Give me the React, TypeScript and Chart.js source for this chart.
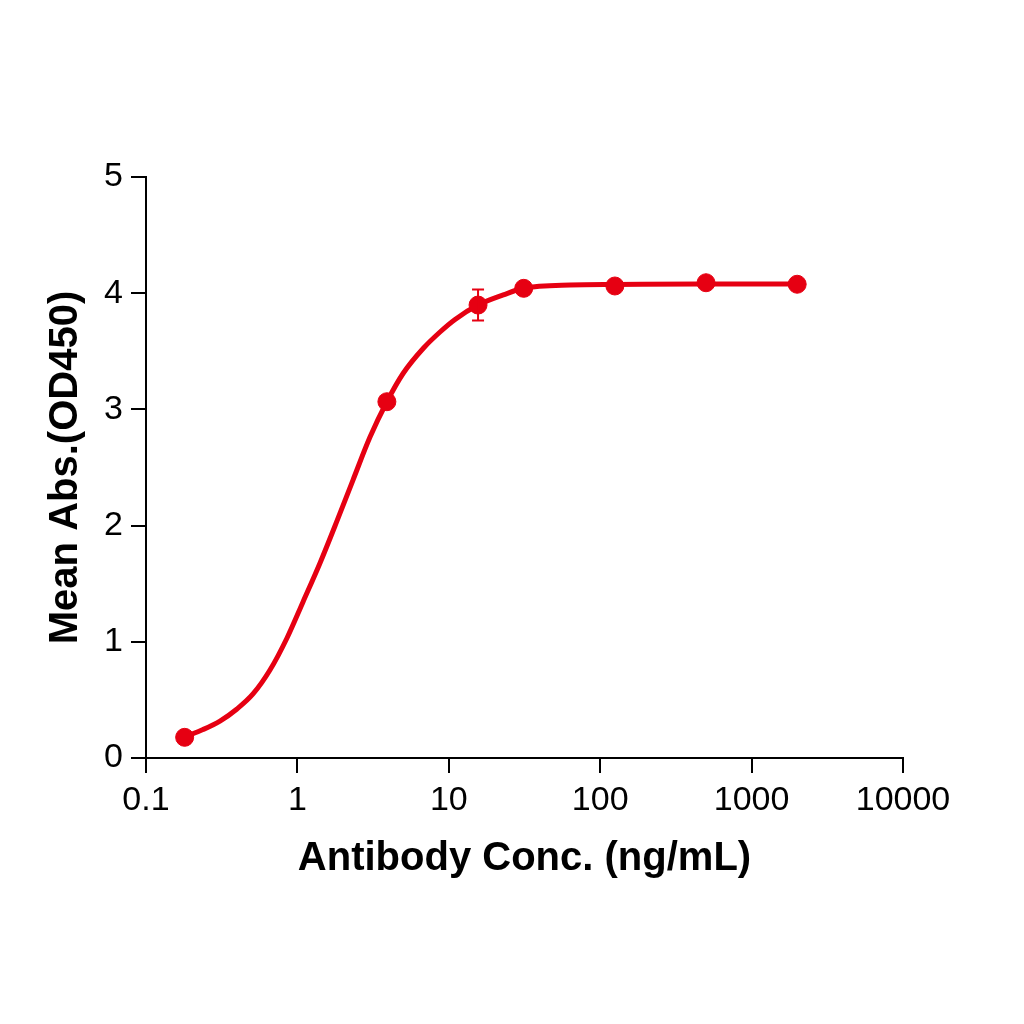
import React, { useEffect, useRef } from "react";
import { Chart, registerables } from "chart.js";

Chart.register(...registerables);

// Measured points (ng/mL vs mean OD450)
const concentrations = [0.18, 3.9, 15.6, 31.25, 125, 500, 2000];
const meanAbs = [0.178, 3.066, 3.898, 4.042, 4.062, 4.09, 4.077];
const errorAbs = [0, 0, 0.133, 0, 0, 0, 0];

// Fitted curve
const curveX = [0.18, 0.238, 0.308, 0.399, 0.509, 0.659, 0.854, 1.089, 1.411, 1.826, 2.329, 3.017, 3.9, 5.0, 6.79, 8.75, 11.0, 15.6, 22.9, 31.0, 63.2, 125, 456, 2000];
const curveY = [0.181, 0.245, 0.318, 0.422, 0.551, 0.757, 1.033, 1.343, 1.678, 2.04, 2.392, 2.762, 3.066, 3.311, 3.526, 3.666, 3.774, 3.898, 3.985, 4.042, 4.071, 4.075, 4.079, 4.079];

const xTickValues = [0.1, 1, 10, 100, 1000, 10000];
const xTickLabels = ["0.1", "1", "10", "100", "1000", "10000"];
const yTickValues = [0, 1, 2, 3, 4, 5];

const xTitle = "Antibody Conc. (ng/mL)";
const yTitle = "Mean Abs.(OD450)";

const RED = "rgb(230,0,18)";
const FONT = "'Liberation Sans', Arial, sans-serif";

const errorBarPlugin = {
  id: "errorBars",
  afterDatasetsDraw(chart: any) {
    const { ctx, scales } = chart;
    const xs = scales.x;
    const ys = scales.y;
    ctx.save();
    ctx.strokeStyle = RED;
    ctx.lineWidth = 2;
    concentrations.forEach((c, i) => {
      const e = errorAbs[i];
      if (!e) return;
      const px = xs.getPixelForValue(c);
      const top = ys.getPixelForValue(meanAbs[i] + e);
      const bot = ys.getPixelForValue(meanAbs[i] - e);
      ctx.beginPath();
      ctx.moveTo(px, top);
      ctx.lineTo(px, bot);
      ctx.moveTo(px - 6, top);
      ctx.lineTo(px + 6, top);
      ctx.moveTo(px - 6, bot);
      ctx.lineTo(px + 6, bot);
      ctx.stroke();
    });
    ctx.restore();
  },
};

export default function App() {
  const ref = useRef<HTMLCanvasElement | null>(null);

  useEffect(() => {
    document.body.style.margin = "0";
    if (!ref.current) return;
    const chart = new Chart(ref.current, {
      type: "line",
      data: {
        datasets: [
          {
            type: "scatter",
            data: concentrations.map((c, i) => ({ x: c, y: meanAbs[i] })),
            backgroundColor: RED,
            borderColor: RED,
            pointRadius: 9,
            pointHoverRadius: 9,
            showLine: false,
            order: 0,
          },
          {
            type: "line",
            data: curveX.map((c, i) => ({ x: c, y: curveY[i] })),
            borderColor: RED,
            borderWidth: 5,
            pointRadius: 0,
            cubicInterpolationMode: "monotone",
            fill: false,
            order: 1,
          },
        ],
      },
      options: {
        animation: false,
        responsive: true,
        maintainAspectRatio: false,
        layout: { padding: { top: 177, right: 121, left: 0, bottom: 0 } },
        plugins: { legend: { display: false }, tooltip: { enabled: false } },
        events: [],
        scales: {
          x: {
            type: "logarithmic",
            min: 0.1,
            max: 10000,
            afterBuildTicks: (scale: any) => {
              scale.ticks = xTickValues.map((v) => ({ value: v }));
            },
            afterFit: (scale: any) => {
              scale.height = 266;
            },
            ticks: {
              autoSkip: false,
              maxRotation: 0,
              padding: 7,
              color: "#000",
              font: { family: FONT, size: 34 },
              callback: (v: any) => {
                const idx = xTickValues.indexOf(Number(v));
                return idx >= 0 ? xTickLabels[idx] : "";
              },
            },
            grid: {
              display: true,
              drawOnChartArea: false,
              drawTicks: true,
              tickLength: 15,
              color: "#000",
              lineWidth: 2,
            },
            border: { display: true, color: "#000", width: 2 },
            title: {
              display: true,
              text: xTitle,
              color: "#000",
              font: { family: FONT, size: 40, weight: "bold" },
              padding: { top: 0, bottom: 141 },
            },
          },
          y: {
            type: "linear",
            min: 0,
            max: 5,
            afterBuildTicks: (scale: any) => {
              scale.ticks = yTickValues.map((v) => ({ value: v }));
            },
            afterFit: (scale: any) => {
              scale.width = 146;
            },
            ticks: {
              padding: 8,
              color: "#000",
              font: { family: FONT, size: 34 },
              callback: (v: any) => String(v),
            },
            grid: {
              display: true,
              drawOnChartArea: false,
              drawTicks: true,
              tickLength: 15,
              color: "#000",
              lineWidth: 2,
            },
            border: { display: true, color: "#000", width: 2 },
            title: {
              display: true,
              text: yTitle,
              color: "#000",
              font: { family: FONT, size: 40, weight: "bold" },
              padding: { top: 42, bottom: 0 },
            },
          },
        },
      },
      plugins: [errorBarPlugin],
    } as any);
    return () => chart.destroy();
  }, []);

  return (
    <div style={{ width: 1024, height: 1024, position: "relative", background: "#fff" }}>
      <canvas ref={ref} />
    </div>
  );
}
